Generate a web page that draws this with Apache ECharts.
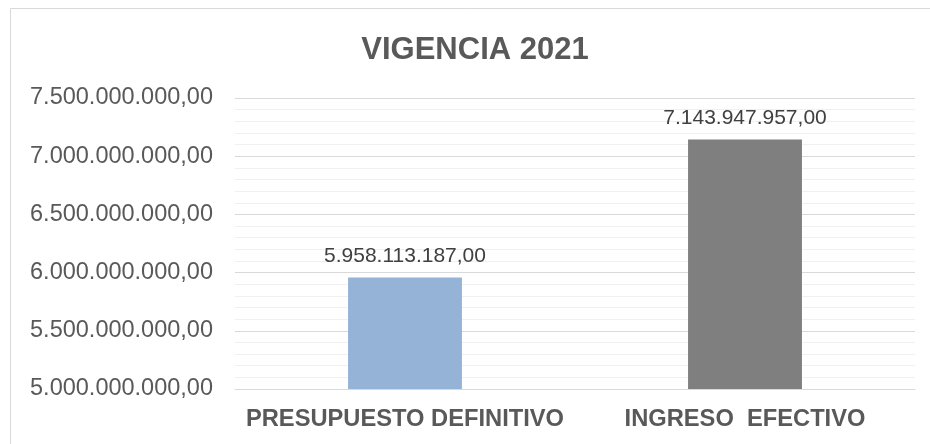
<!DOCTYPE html>
<html>
<head>
<meta charset="utf-8">
<title>VIGENCIA 2021</title>
<script src="https://cdn.jsdelivr.net/npm/echarts@6/dist/echarts.min.js"></script>
<style>
  html, body { margin: 0; padding: 0; background: #fff; }
  #chart { width: 930px; height: 444px; }
</style>
</head>
<body>
<div id="chart"></div>
<script>
const categories = ['PRESUPUESTO DEFINITIVO', 'INGRESO  EFECTIVO']
const values = [5958113187, 7143947957]
const barColors = ['#95b3d7', '#7f7f7f']

// 1234567,5 -> "1.234.567,50"
function formatEs (v) {
  const parts = Number(v).toFixed(2).split('.')
  return parts[0].replace(/\B(?=(\d{3})+(?!\d))/g, '.') + ',' + parts[1]
}

const chart = echarts.init(document.getElementById('chart'))
chart.setOption({
  animation: false,
  textStyle: { fontFamily: 'Liberation Sans, Arial, sans-serif' },
  title: {
    text: 'VIGENCIA 2021',
    left: 470,
    textAlign: 'center',
    top: 30,
    textStyle: { fontSize: 31, fontWeight: 'bold', color: '#595959' }
  },
  graphic: [{
    type: 'rect',
    shape: { x: 10.5, y: 8.5, width: 940, height: 460 },
    style: { fill: 'none', stroke: '#d9d9d9', lineWidth: 1 },
    silent: true
  }],
  grid: { left: 235, right: 15, top: 98, bottom: 55 },
  xAxis: {
    type: 'category',
    data: categories,
    axisLine: { lineStyle: { color: '#d9d9d9', width: 1 } },
    axisTick: { show: false },
    axisLabel: {
      interval: 0,
      margin: 18,
      fontSize: 23.7,
      fontWeight: 'bold',
      color: '#595959'
    }
  },
  yAxis: {
    type: 'value',
    min: 5000000000,
    max: 7500000000,
    interval: 500000000,
    axisLine: { show: false },
    axisTick: { show: false },
    axisLabel: {
      margin: 22,
      fontSize: 23.5,
      color: '#595959',
      formatter: formatEs
    },
    splitLine: { lineStyle: { color: '#d9d9d9', width: 1 } },
    minorTick: { show: false, splitNumber: 5 },
    minorSplitLine: { show: true, lineStyle: { color: '#f0f0f0', width: 1 } }
  },
  series: [{
    type: 'bar',
    barWidth: '33.5%',
    data: values.map((v, i) => ({ value: v, itemStyle: { color: barColors[i] } })),
    label: {
      show: true,
      position: 'top',
      distance: 11,
      fontSize: 21,
      color: '#404040',
      formatter: p => formatEs(p.value)
    }
  }]
})
</script>
</body>
</html>
